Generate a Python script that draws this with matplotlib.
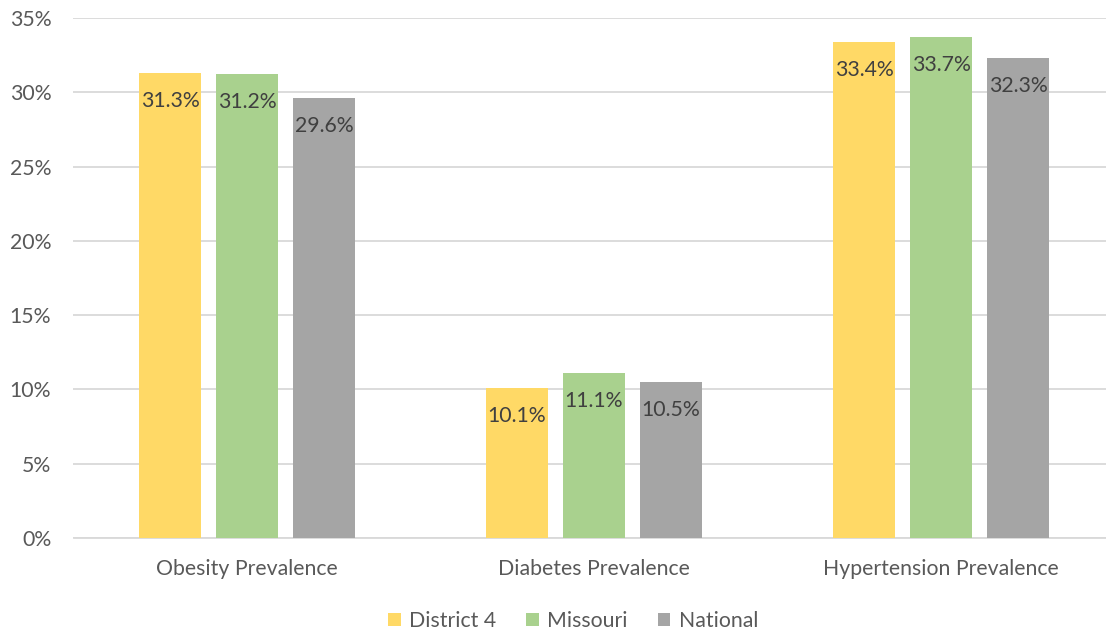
import matplotlib
matplotlib.use("Agg")
import matplotlib.pyplot as plt
import numpy as np
from matplotlib.patches import Patch

categories = ["Obesity Prevalence", "Diabetes Prevalence", "Hypertension Prevalence"]
series_names = ["District 4", "Missouri", "National"]
district4 = [31.3, 10.1, 33.4]
missouri = [31.2, 11.1, 33.7]
national = [29.6, 10.5, 32.3]
yticks = [0, 5, 10, 15, 20, 25, 30, 35]

colors = ["#FFD966", "#A9D18E", "#A5A5A5"]
plt.rcParams['font.family'] = ['Lato', 'DejaVu Sans']
fs = 15.3

fig = plt.figure(figsize=(11.06, 6.33), dpi=100)
ax = fig.add_axes([73.5/1106, 1-538/633, (1106-73.5)/1106, (538-18)/633])

x = np.arange(len(categories))
bw = 0.176
offsets = [-0.222, 0.0, 0.222]
for vals, off, col in zip([district4, missouri, national], offsets, colors):
    bars = ax.bar(x + off, vals, width=bw, color=col, zorder=3)
    for b, v in zip(bars, vals):
        ax.annotate(f"{v:.1f}%", (b.get_x() + b.get_width()/2, v),
                    xytext=(0, -20), textcoords="offset points",
                    ha="center", va="center", fontsize=fs, color="#404040", zorder=4)

ax.set_xlim(-0.5, -0.5 + (1106-73.5)/347)
ax.set_ylim(0, 35)
ax.set_yticks(yticks)
ax.set_yticklabels([f"{t}%" for t in yticks], fontsize=fs, color="#595959")
ax.set_xticks(x)
ax.set_xticklabels(categories, fontsize=fs, color="#595959")
ax.tick_params(axis="both", length=0)
ax.tick_params(axis="y", pad=16)
ax.tick_params(axis="x", pad=15)
ax.yaxis.grid(True, color="#D9D9D9", linewidth=1.3, zorder=0)
for s in ["top", "right", "left"]:
    ax.spines[s].set_visible(False)
ax.spines["bottom"].set_color("#D9D9D9")
ax.spines["bottom"].set_linewidth(1.3)

handles = [Patch(facecolor=c, edgecolor="none") for c in colors]
fig.legend(handles, series_names, loc="center", bbox_to_anchor=(573/1106, 1-621/633),
           ncol=3, frameon=False, fontsize=fs, labelcolor="#595959",
           handlelength=0.6, handleheight=0.6, handletextpad=0.4, columnspacing=1.4)

fig.savefig("out.png", dpi=100)
